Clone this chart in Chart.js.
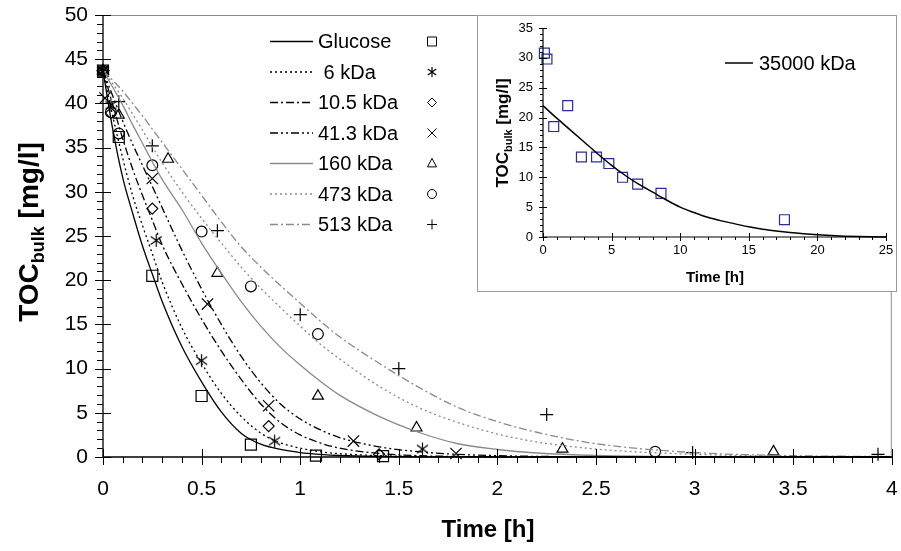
<!DOCTYPE html>
<html>
<head>
<meta charset="utf-8">
<title>TOC bulk vs time</title>
<script src="https://cdn.jsdelivr.net/npm/chart.js@4.4.1/dist/chart.umd.min.js"></script>
<style>
  html, body { margin: 0; padding: 0; background: #fff; }
  #wrap { position: relative; width: 901px; height: 551px; overflow: hidden; }
  #mainChart { position: absolute; left: 0; top: 0; }
  #insetBox { position: absolute; left: 477px; top: 15px; width: 418px; height: 275px; border: 1px solid #9a9a9a; background: #fff; }
  #insetChart { display: block; }
</style>
</head>
<body>
<div id="wrap">
  <canvas id="mainChart" width="901" height="551"></canvas>
  <div id="insetBox"><canvas id="insetChart" width="418" height="275"></canvas></div>
</div>
<script>
// fitted curves (model)
const fitTime = [0, 0.05, 0.1, 0.15, 0.2, 0.25, 0.3, 0.4, 0.5, 0.6, 0.7, 0.8, 0.9, 1.0, 1.1, 1.2, 1.4, 1.6, 1.8, 2.0, 2.2, 2.5, 3.0, 3.5, 4.0];
const fitGlucose = [43.7, 37.0, 31.6, 27.6, 23.9, 20.7, 17.6, 12.5, 8.5, 5.1, 2.7, 1.45, 0.85, 0.5, 0.3, 0.17, 0.06, 0.02, 0.01, 0, 0, 0, 0, 0, 0];
const fit6 = [43.7, 38.5, 33.8, 29.6, 26.2, 23.0, 19.8, 14.6, 10.6, 7.2, 4.6, 2.7, 1.6, 1.0, 0.6, 0.38, 0.15, 0.06, 0.02, 0.01, 0, 0, 0, 0, 0];
const fit10 = [43.7, 39.8, 36.0, 32.6, 29.6, 26.8, 24.0, 19.6, 15.6, 12.0, 8.8, 6.0, 3.9, 2.5, 1.6, 1.0, 0.4, 0.15, 0.06, 0.02, 0, 0, 0, 0, 0];
const fit41 = [43.7, 40.8, 38.0, 35.4, 33.0, 30.6, 28.2, 23.4, 19.0, 15.0, 11.4, 8.4, 6.0, 4.3, 3.1, 2.2, 1.15, 0.6, 0.3, 0.15, 0.07, 0.02, 0, 0, 0];
const fit160 = [43.7, 41.8, 39.8, 37.6, 35.5, 33.4, 31.4, 28.0, 24.2, 20.8, 17.6, 14.8, 12.4, 10.4, 8.6, 7.0, 4.6, 2.8, 1.5, 0.85, 0.45, 0.17, 0.03, 0.01, 0];
const fit473 = [43.7, 42.2, 40.6, 38.8, 37.0, 35.1, 33.3, 30.0, 27.0, 24.2, 21.5, 19.1, 16.9, 14.8, 12.8, 11.1, 8.0, 5.6, 3.9, 2.6, 1.7, 0.9, 0.3, 0.1, 0.03];
const fit513 = [43.7, 42.6, 41.4, 40.0, 38.6, 37.1, 35.6, 32.6, 29.6, 26.6, 23.8, 21.5, 19.4, 17.4, 15.4, 13.6, 10.6, 7.9, 5.6, 4.0, 2.8, 1.5, 0.5, 0.15, 0.05];

// measured points
const glucoseT = [0, 0.08, 0.25, 0.5, 0.75, 1.08, 1.42];
const glucoseV = [43.7, 36.2, 20.5, 6.9, 1.4, 0.15, 0.1];
const kda6T = [0, 0.04, 0.27, 0.5, 0.87, 1.62];
const kda6V = [43.7, 39.8, 24.5, 10.9, 1.8, 0.9];
const kda10T = [0, 0.04, 0.25, 0.84, 1.4];
const kda10V = [43.7, 38.9, 28.1, 3.5, 0.3];
const kda41T = [0, 0.01, 0.25, 0.53, 0.84, 1.27, 1.79];
const kda41V = [43.7, 40.6, 31.5, 17.3, 5.8, 1.8, 0.4];
const kda160T = [0, 0.08, 0.33, 0.58, 1.09, 1.59, 2.33, 3.4];
const kda160V = [43.7, 38.7, 33.7, 20.8, 6.9, 3.3, 0.9, 0.6];
const kda473T = [0, 0.04, 0.08, 0.25, 0.5, 0.75, 1.09, 2.8];
const kda473V = [43.7, 39.0, 36.6, 33.0, 25.5, 19.3, 13.9, 0.6];
const kda513T = [0, 0.08, 0.25, 0.58, 1.0, 1.5, 2.25, 2.99, 3.93];
const kda513V = [43.7, 40.2, 35.2, 25.6, 16.1, 10.0, 4.8, 0.5, 0.3];

const seriesNames = ['Glucose', ' 6 kDa', '10.5 kDa', '41.3 kDa', '160 kDa', '473 kDa', '513 kDa'];

// inset: 35000 kDa
const insetFitT = [0, 1, 2, 3, 4, 5, 6, 7, 8, 9, 10, 11, 12, 13, 14, 15, 16, 17, 18, 19, 20, 21, 22, 23, 24, 25];
const insetFitV = [22.0, 19.9, 17.9, 15.9, 13.9, 12.0, 10.3, 8.8, 7.5, 6.2, 5.0, 4.1, 3.3, 2.7, 2.2, 1.7, 1.3, 1.0, 0.75, 0.55, 0.38, 0.24, 0.14, 0.07, 0.03, 0];
const insetT = [0.1, 0.29, 0.78, 1.8, 2.8, 3.9, 4.8, 5.8, 6.9, 8.6, 17.6];
const insetV = [30.8, 29.8, 18.5, 22.0, 13.4, 13.4, 12.3, 10.0, 8.85, 7.3, 2.9];

Chart.defaults.font.family = '"Liberation Sans", Arial, Helvetica, sans-serif';
Chart.defaults.color = '#000';

const FONT = '"Liberation Sans", Arial, Helvetica, sans-serif';
const GREY = '#8a8a8a';

function pts(ts, vs) {
  return ts.map((t, i) => ({ x: t, y: vs[i] }));
}

// asterisk marker (x with a vertical bar)
function makeAsterisk(size) {
  const c = document.createElement('canvas');
  c.width = size; c.height = size;
  const g = c.getContext('2d');
  const h = size / 2, r = size / 2 - 1;
  g.strokeStyle = '#000';
  g.lineWidth = 1.2;
  g.beginPath();
  g.moveTo(h, h - r); g.lineTo(h, h + r);
  g.moveTo(h - r * 0.85, h - r * 0.6); g.lineTo(h + r * 0.85, h + r * 0.6);
  g.moveTo(h - r * 0.85, h + r * 0.6); g.lineTo(h + r * 0.85, h - r * 0.6);
  g.stroke();
  return c;
}
const asterisk = makeAsterisk(15);
const asteriskSmall = makeAsterisk(12);

function fitSet(label, values, color, dash) {
  return {
    label: label,
    data: pts(fitTime, values),
    showLine: true,
    borderColor: color,
    borderWidth: 1.3,
    borderDash: dash,
    pointRadius: 0,
    cubicInterpolationMode: 'monotone',
    clip: false
  };
}

function markSet(label, ts, vs, style, radius) {
  return {
    label: label,
    data: pts(ts, vs),
    showLine: false,
    pointStyle: style,
    pointRadius: radius,
    borderColor: '#000',
    backgroundColor: 'rgba(0,0,0,0)',
    borderWidth: 1.2,
    clip: false
  };
}

const datasets = [
  fitSet(seriesNames[0], fitGlucose, '#000', []),
  fitSet(seriesNames[1], fit6, '#000', [2, 3]),
  fitSet(seriesNames[2], fit10, '#000', [8, 3, 2, 3]),
  fitSet(seriesNames[3], fit41, '#000', [8, 3, 2, 3, 2, 3]),
  fitSet(seriesNames[4], fit160, GREY, []),
  fitSet(seriesNames[5], fit473, GREY, [2, 3]),
  fitSet(seriesNames[6], fit513, GREY, [8, 3, 2, 3]),
  markSet('Glucose data', glucoseT, glucoseV, 'rect', 7.8),
  markSet('6 kDa data', kda6T, kda6V, asterisk, 6),
  markSet('10.5 kDa data', kda10T, kda10V, 'rectRot', 5.5),
  markSet('41.3 kDa data', kda41T, kda41V, 'crossRot', 8),
  markSet('160 kDa data', kda160T, kda160V, 'triangle', 6.3),
  markSet('473 kDa data', kda473T, kda473V, 'circle', 5.4),
  markSet('513 kDa data', kda513T, kda513V, 'cross', 6.5)
];

// small marker drawer for the legend column
function drawMarker(ctx, style, x, y, r) {
  ctx.beginPath();
  if (style === 'rect') {
    ctx.rect(x - r, y - r, 2 * r, 2 * r);
  } else if (style === 'rectRot') {
    ctx.moveTo(x, y - r); ctx.lineTo(x + r, y); ctx.lineTo(x, y + r); ctx.lineTo(x - r, y); ctx.closePath();
  } else if (style === 'crossRot') {
    ctx.moveTo(x - r, y - r); ctx.lineTo(x + r, y + r);
    ctx.moveTo(x - r, y + r); ctx.lineTo(x + r, y - r);
  } else if (style === 'triangle') {
    ctx.moveTo(x, y - r * 1.15); ctx.lineTo(x + r, y + r * 0.75); ctx.lineTo(x - r, y + r * 0.75); ctx.closePath();
  } else if (style === 'circle') {
    ctx.arc(x, y, r, 0, Math.PI * 2);
  } else if (style === 'cross') {
    ctx.moveTo(x - r, y); ctx.lineTo(x + r, y);
    ctx.moveTo(x, y - r); ctx.lineTo(x, y + r);
  } else if (style instanceof HTMLCanvasElement) {
    ctx.drawImage(style, x - style.width / 2, y - style.height / 2);
    return;
  }
  ctx.stroke();
}

function drawRich(ctx, parts, x, y) {
  let w = 0;
  parts.forEach(p => { ctx.font = p.font; w += ctx.measureText(p.text).width; });
  let cx = x - w / 2;
  parts.forEach(p => {
    ctx.font = p.font;
    ctx.fillText(p.text, cx, y + (p.dy || 0));
    cx += ctx.measureText(p.text).width;
  });
}

// axis lines, frame and major/minor tick marks
const tickMarks = {
  id: 'tickMarks',
  afterDatasetsDraw(chart, args, o) {
    const { ctx, chartArea: a, scales: { x, y } } = chart;
    ctx.save();
    if (o.frame) {
      ctx.strokeStyle = o.frame;
      ctx.lineWidth = 1;
      ctx.beginPath();
      ctx.moveTo(a.left, a.top + 0.5);
      ctx.lineTo(a.right - 0.5, a.top + 0.5);
      ctx.lineTo(a.right - 0.5, a.bottom);
      ctx.stroke();
    }
    ctx.strokeStyle = '#000';
    ctx.lineWidth = o.width;
    ctx.beginPath();
    ctx.moveTo(a.left, a.top);
    ctx.lineTo(a.left, a.bottom);
    ctx.lineTo(a.right, a.bottom);
    ctx.stroke();
    ctx.lineWidth = 1;
    ctx.beginPath();
    const ny = Math.round((y.max - y.min) / o.yMinor);
    for (let i = 0; i <= ny; i++) {
      const v = y.min + i * o.yMinor;
      const py = Math.round(y.getPixelForValue(v)) + 0.5;
      const major = i % Math.round(o.yMajor / o.yMinor) === 0;
      ctx.moveTo(a.left - (major ? o.majIn : o.minLen), py);
      ctx.lineTo(a.left + (major ? o.majOut : 0), py);
    }
    const nx = Math.round((x.max - x.min) / o.xMinor);
    for (let i = 0; i <= nx; i++) {
      const v = x.min + i * o.xMinor;
      const px = Math.round(x.getPixelForValue(v)) + 0.5;
      const major = i % Math.round(o.xMajor / o.xMinor) === 0;
      ctx.moveTo(px, a.bottom - (major ? o.majOut : 0));
      ctx.lineTo(px, a.bottom + (major ? o.majIn : o.minLen));
    }
    ctx.stroke();
    ctx.restore();
  }
};

// axis titles with subscript
const axisTitles = {
  id: 'axisTitles',
  afterDraw(chart, args, o) {
    const ctx = chart.ctx;
    ctx.save();
    ctx.fillStyle = '#000';
    ctx.textAlign = 'left';
    ctx.textBaseline = 'alphabetic';
    drawRich(ctx, [{ text: 'Time [h]', font: o.xFont }], o.xPos[0], o.xPos[1]);
    ctx.translate(o.yPos[0], o.yPos[1]);
    ctx.rotate(-Math.PI / 2);
    drawRich(ctx, [
      { text: 'TOC', font: o.yFont },
      { text: 'bulk', font: o.subFont, dy: o.subDy },
      { text: ' [mg/l]', font: o.yFont }
    ], 0, 0);
    ctx.restore();
  }
};

// legend: line sample, name, marker column
const sampleLegend = {
  id: 'sampleLegend',
  afterDraw(chart, args, o) {
    const ctx = chart.ctx;
    ctx.save();
    o.items.forEach((it, i) => {
      const y = o.y + i * o.gap;
      const line = chart.data.datasets[it.line];
      ctx.strokeStyle = line.borderColor;
      ctx.lineWidth = line.borderWidth;
      ctx.setLineDash(line.borderDash || []);
      ctx.beginPath();
      ctx.moveTo(o.x0, y);
      ctx.lineTo(o.x1, y);
      ctx.stroke();
      ctx.setLineDash([]);
      ctx.fillStyle = '#000';
      ctx.font = o.font;
      ctx.textAlign = 'left';
      ctx.textBaseline = 'middle';
      ctx.fillText(line.label, o.textX, y + 1);
      if (it.style) {
        ctx.strokeStyle = '#000';
        ctx.lineWidth = 1;
        drawMarker(ctx, it.style, o.markX, y, it.r);
      }
    });
    ctx.restore();
  }
};

const fmtTick = v => String(Math.round(v * 10) / 10);

new Chart(document.getElementById('mainChart'), {
  type: 'scatter',
  data: { datasets: datasets },
  options: {
    responsive: false,
    devicePixelRatio: 1,
    animation: false,
    events: [],
    layout: { padding: { left: 0, top: 15, right: 4, bottom: 0 } },
    plugins: {
      legend: { display: false },
      tooltip: { enabled: false },
      tickMarks: { width: 1.3, frame: '#8c8c8c', yMinor: 1, yMajor: 5, xMinor: 0.1, xMajor: 0.5, majIn: 8, majOut: 8, minLen: 6 },
      axisTitles: {
        xFont: 'bold 24px ' + FONT, xPos: [488, 537],
        yFont: 'bold 28px ' + FONT, subFont: 'bold 18px ' + FONT, subDy: 6, yPos: [38, 232]
      },
      sampleLegend: {
        x0: 270, x1: 313, textX: 318, markX: 432, y: 41.5, gap: 30.5, font: '20px ' + FONT,
        items: [
          { line: 0, style: 'rect', r: 4.5 },
          { line: 1, style: asteriskSmall },
          { line: 2, style: 'rectRot', r: 4.5 },
          { line: 3, style: 'crossRot', r: 4.5 },
          { line: 4, style: 'triangle', r: 4.5 },
          { line: 5, style: 'circle', r: 4.5 },
          { line: 6, style: 'cross', r: 5 }
        ]
      }
    },
    scales: {
      x: {
        type: 'linear', min: 0, max: 4,
        ticks: { stepSize: 0.5, font: { size: 21 }, padding: 20, maxRotation: 0, autoSkip: false, callback: fmtTick },
        grid: { display: false, drawTicks: false },
        border: { display: false },
        afterFit(s) { s.height = 94; s.paddingLeft = 0; s.paddingRight = 0; }
      },
      y: {
        min: 0, max: 50,
        ticks: { stepSize: 5, font: { size: 21 }, padding: 15, callback: fmtTick },
        grid: { display: false, drawTicks: false },
        border: { display: false },
        afterFit(s) { s.width = 103; s.paddingTop = 0; s.paddingBottom = 0; }
      }
    }
  },
  plugins: [tickMarks, axisTitles, sampleLegend]
});

// inset chart
new Chart(document.getElementById('insetChart'), {
  type: 'scatter',
  data: {
    datasets: [
      {
        label: '35000 kDa',
        data: pts(insetFitT, insetFitV),
        showLine: true,
        borderColor: '#000',
        borderWidth: 1.5,
        pointRadius: 0,
        cubicInterpolationMode: 'monotone',
        clip: false
      },
      {
        label: '35000 kDa data',
        data: pts(insetT, insetV),
        showLine: false,
        pointStyle: 'rect',
        pointRadius: 7,
        borderColor: '#2b2b9a',
        backgroundColor: 'rgba(0,0,0,0)',
        borderWidth: 1.2,
        clip: false
      }
    ]
  },
  options: {
    responsive: false,
    devicePixelRatio: 1,
    animation: false,
    events: [],
    layout: { padding: { left: 0, top: 12, right: 10, bottom: 0 } },
    plugins: {
      legend: { display: false },
      tooltip: { enabled: false },
      tickMarks: { width: 1.2, frame: null, yMinor: 1, yMajor: 5, xMinor: 1, xMajor: 5, majIn: 4, majOut: 4, minLen: 3 },
      axisTitles: {
        xFont: 'bold 15px ' + FONT, xPos: [237, 266],
        yFont: 'bold 17px ' + FONT, subFont: 'bold 11px ' + FONT, subDy: 4, yPos: [30, 117]
      },
      sampleLegend: {
        x0: 247, x1: 275, textX: 281, markX: 0, y: 47, gap: 0, font: '20px ' + FONT,
        items: [{ line: 0 }]
      }
    },
    scales: {
      x: {
        type: 'linear', min: 0, max: 25,
        ticks: { stepSize: 5, font: { size: 13 }, padding: 6, maxRotation: 0, autoSkip: false },
        grid: { display: false, drawTicks: false },
        border: { display: false },
        afterFit(s) { s.height = 54; s.paddingLeft = 0; s.paddingRight = 0; }
      },
      y: {
        min: 0, max: 35,
        ticks: { stepSize: 5, font: { size: 13 }, padding: 10 },
        grid: { display: false, drawTicks: false },
        border: { display: false },
        afterFit(s) { s.width = 65; s.paddingTop = 0; s.paddingBottom = 0; }
      }
    }
  },
  plugins: [tickMarks, axisTitles, sampleLegend]
});
</script>
</body>
</html>
